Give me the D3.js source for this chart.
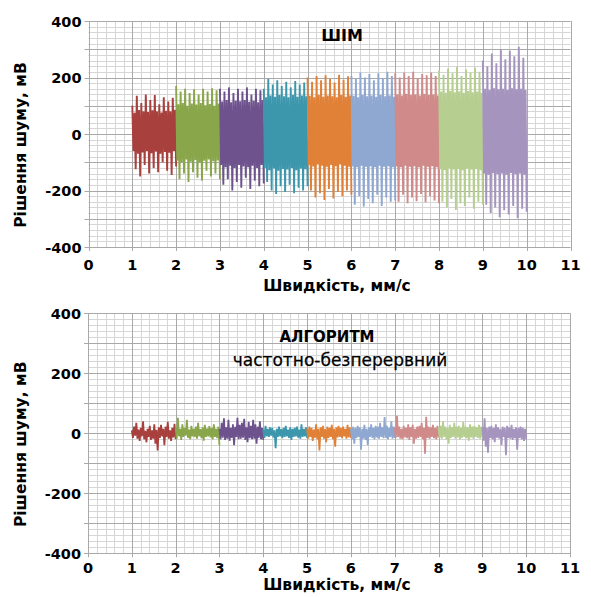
<!DOCTYPE html>
<html><head><meta charset="utf-8">
<script src="https://cdn.jsdelivr.net/npm/d3@7"></script>
<style>
html,body{margin:0;padding:0;background:#fff;}
svg{display:block;}
text{font-family:"DejaVu Sans",sans-serif;fill:#000;}
</style></head>
<body>
<svg id="c" width="591" height="597"></svg>
<script>
// ---------- data ----------
const xTicks = [0,1,2,3,4,5,6,7,8,9,10,11];
const yTicks = [-400,-200,0,200,400];
const segStarts = [1,2,3,4,5,6,7,8,9];
const segColors = ["#A8403D","#8AA64A","#6D528D","#3C97AD","#E08137","#8FA8D2","#CF8A89","#B6CF91","#A595BE"];
const titleTop = "ШІМ";
const titleBottom1 = "АЛГОРИТМ";
const titleBottom2 = "частотно-безперервний";
const xTitle = "Швидкість, мм/с";
const yTitle = "Рішення шуму, мВ";

// PWM (ШІМ) noise, samples per segment
const pwm1 = [100,-60,75,-125,135,-70,85,-150,110,-65,80,-110,140,-60,78,-140,120,-68,84,-120,138,-62,80,-135,105,-70,76,-100,130,-64,82,-130,115,-66,80,-145,128,-60,86,-115];
const pwm2 = [170,-95,105,-160,150,-100,110,-140,160,-90,100,-170,145,-98,108,-135,158,-92,104,-155,140,-100,110,-165,160,-95,102,-130,150,-90,106,-150,162,-96,100,-140,155,-94,108,-160];
const pwm3 = [160,-110,115,-180,150,-118,120,-160,165,-112,112,-200,145,-120,118,-170,160,-110,116,-190,150,-115,120,-155,165,-118,114,-195,140,-112,118,-165,160,-120,112,-185,155,-110,120,-175];
const pwm4 = [160,-120,130,-170,195,-128,136,-200,175,-122,132,-212,190,-130,138,-185,170,-124,134,-205,185,-126,130,-180,165,-120,138,-210,188,-128,132,-190,175,-122,136,-200,182,-125,134,-185];
const pwm5 = [200,-110,135,-200,185,-115,130,-225,205,-108,138,-210,190,-112,132,-234,208,-116,136,-195,195,-110,134,-228,182,-114,130,-205,210,-108,138,-220,192,-112,132,-200,204,-116,136,-215];
const pwm6 = [205,-115,135,-250,195,-118,130,-220,218,-112,138,-257,200,-116,134,-230,212,-114,136,-245,190,-118,132,-215,215,-112,138,-255,198,-116,134,-225,220,-114,136,-240,205,-118,132,-235];
const pwm7 = [215,-115,140,-240,200,-118,136,-215,218,-112,142,-245,205,-116,138,-225,220,-114,140,-238,198,-118,136,-212,212,-112,142,-242,208,-116,138,-220,218,-114,140,-235,205,-118,136,-245];
const pwm8 = [225,-125,150,-240,210,-128,146,-260,232,-122,152,-230,215,-126,148,-269,238,-124,150,-245,205,-128,146,-255,228,-122,152,-225,218,-126,148,-265,235,-124,150,-240,220,-128,146,-250];
const pwm9 = [260,-140,160,-250,240,-144,156,-280,285,-138,162,-260,250,-142,158,-295,300,-140,160,-270,265,-144,156,-285,295,-138,162,-255,275,-142,158,-298,309,-140,160,-265,270,-144,156,-275];

// Frequency-continuous algorithm noise
const alg1 = [10,-15,22,-8,35,-18,12,-25,18,-10,40,-20,8,-30,15,-12,25,-22,10,-18,30,-35,12,-57,20,-15,28,-10,15,-40,22,-12,38,-18,10,-25,18,-14,32,-20];
const alg2 = [20,-18,52,-10,15,-22,30,-12,18,-8,45,-15,12,-20,25,-10,15,-12,22,-18,35,-10,14,-16,20,-25,28,-12,16,-10,24,-14,18,-20,30,-12,15,-16,22,-40];
const alg3 = [15,-20,35,-15,50,-22,20,-18,45,-25,18,-15,30,-40,22,-12,52,-20,28,-18,35,-15,48,-22,20,-30,38,-16,25,-20,45,-18,30,-35,22,-15,40,-20,18,-22];
const alg4 = [12,-15,25,-10,15,-12,20,-8,18,-14,10,-50,15,-12,22,-10,14,-16,18,-12,25,-10,12,-15,20,-22,15,-12,18,-10,22,-14,12,-18,30,-12,15,-10,20,-15];
const alg5 = [15,-18,22,-12,18,-25,12,-15,30,-20,15,-57,20,-12,25,-18,14,-30,22,-15,18,-12,28,-20,15,-45,20,-14,25,-12,18,-16,22,-10,15,-18,28,-14,20,-15];
const alg6 = [15,-20,22,-35,18,-15,25,-12,20,-55,15,-18,28,-22,15,-40,20,-12,30,-15,18,-20,25,-14,22,-18,35,-12,20,-16,54,-15,25,-20,18,-12,40,-18,22,-15];
const alg7 = [20,-15,58,-12,22,-18,15,-20,25,-14,18,-16,30,-22,20,-12,28,-35,15,-18,22,-15,25,-12,35,-20,18,-68,55,-15,22,-18,20,-12,28,-16,18,-20,25,-14];
const alg8 = [20,-15,25,-18,40,-12,22,-20,18,-35,28,-15,20,-12,35,-18,22,-14,25,-20,18,-15,38,-12,22,-16,20,-25,30,-14,22,-18,25,-12,20,-15,28,-18,22,-14];
const alg9 = [20,-25,50,-45,18,-65,22,-15,25,-20,18,-30,30,-15,20,-18,15,-40,22,-12,18,-73,25,-15,20,-18,28,-22,15,-16,20,-55,18,-15,22,-20,18,-25,15,-20];

const pwmSeries = [pwm1,pwm2,pwm3,pwm4,pwm5,pwm6,pwm7,pwm8,pwm9];
const algSeries = [alg1,alg2,alg3,alg4,alg5,alg6,alg7,alg8,alg9];

// ---------- drawing ----------
const svg = d3.select("#c");

function panel(cfg){
  const x = d3.scaleLinear().domain([0,11]).range([cfg.x0, cfg.x1]);
  const y = d3.scaleLinear().domain([-400,400]).range([cfg.yb, cfg.yt]);
  const g = svg.append("g");
  const xMinor = d3.range(0, 11.001, 0.2);
  const yMinor = d3.range(-400, 400.001, 20);
  g.append("g").selectAll("line").data(xMinor).join("line")
    .attr("x1", d=>Math.round(x(d))+0.5).attr("x2", d=>Math.round(x(d))+0.5)
    .attr("y1", y(400)).attr("y2", y(-400))
    .attr("stroke", "#d6d6d6").attr("stroke-width", 1);
  g.append("g").selectAll("line").data(yMinor).join("line")
    .attr("y1", d=>Math.round(y(d))+0.5).attr("y2", d=>Math.round(y(d))+0.5)
    .attr("x1", x(0)).attr("x2", x(11))
    .attr("stroke", "#d6d6d6").attr("stroke-width", 1);
  g.append("g").selectAll("line").data(xTicks).join("line")
    .attr("x1", d=>Math.round(x(d))+0.5).attr("x2", d=>Math.round(x(d))+0.5)
    .attr("y1", y(400)).attr("y2", y(-400)+4)
    .attr("stroke", "#a9a9a9").attr("stroke-width", 1);
  g.append("g").selectAll("line").data(d3.range(-400,400.001,100)).join("line")
    .attr("y1", d=>Math.round(y(d))+0.5).attr("y2", d=>Math.round(y(d))+0.5)
    .attr("x1", x(0)-4).attr("x2", x(11))
    .attr("stroke", "#a9a9a9").attr("stroke-width", 1);

  const line = d3.line().x(d=>x(d[0])).y(d=>y(d[1]));
  cfg.series.forEach((arr, k) => {
    const s = segStarts[k];
    const pts = arr.map((v,i)=>[s + i/(arr.length-1), v]);
    g.append("path").attr("d", line(pts)).attr("fill","none")
      .attr("stroke", segColors[k]).attr("stroke-width", cfg.sw)
      .attr("stroke-linejoin","miter").attr("stroke-miterlimit", 2);
  });

  g.append("g").selectAll("text").data(yTicks).join("text")
    .attr("x", cfg.x0 - 7).attr("y", d=>y(d)+5.5)
    .attr("text-anchor","end").attr("font-size", 14.5).attr("font-weight","bold")
    .text(d=>d);
  g.append("g").selectAll("text").data(xTicks).join("text")
    .attr("x", d=>x(d)).attr("y", cfg.yb + cfg.tickDy)
    .attr("text-anchor","middle").attr("font-size", 14.5).attr("font-weight","bold")
    .text(d=>d);
  g.append("text").attr("x", 337).attr("y", cfg.yb + cfg.titleDy)
    .attr("text-anchor","middle").attr("font-size", 15.5).attr("font-weight","bold")
    .text(xTitle);
  g.append("text").attr("transform", `translate(26,${(cfg.yt+cfg.yb)/2+11}) rotate(-90)`)
    .attr("text-anchor","middle").attr("font-size", 15.5).attr("font-weight","bold")
    .text(yTitle);
  return g;
}

const gTop = panel({x0:88.5, x1:570.5, yt:21, yb:247, series:pwmSeries, sw:1.9, tickDy:23, titleDy:44});
gTop.append("text").attr("x", 342).attr("y", 41).attr("text-anchor","middle")
  .attr("font-size", 16).attr("font-weight","bold").text(titleTop);

const gBot = panel({x0:88, x1:570, yt:313.3, yb:553.3, series:algSeries, sw:1.8, tickDy:20, titleDy:37});
gBot.append("text").attr("x", 327).attr("y", 342).attr("text-anchor","middle")
  .attr("font-size", 15).attr("font-weight","bold").text(titleBottom1);
gBot.append("text").attr("x", 340).attr("y", 366).attr("text-anchor","middle")
  .attr("font-family","Liberation Sans, Arial, sans-serif")
  .attr("font-size", 17).attr("stroke","#000").attr("stroke-width",0.25).text(titleBottom2);
</script>
</body></html>
